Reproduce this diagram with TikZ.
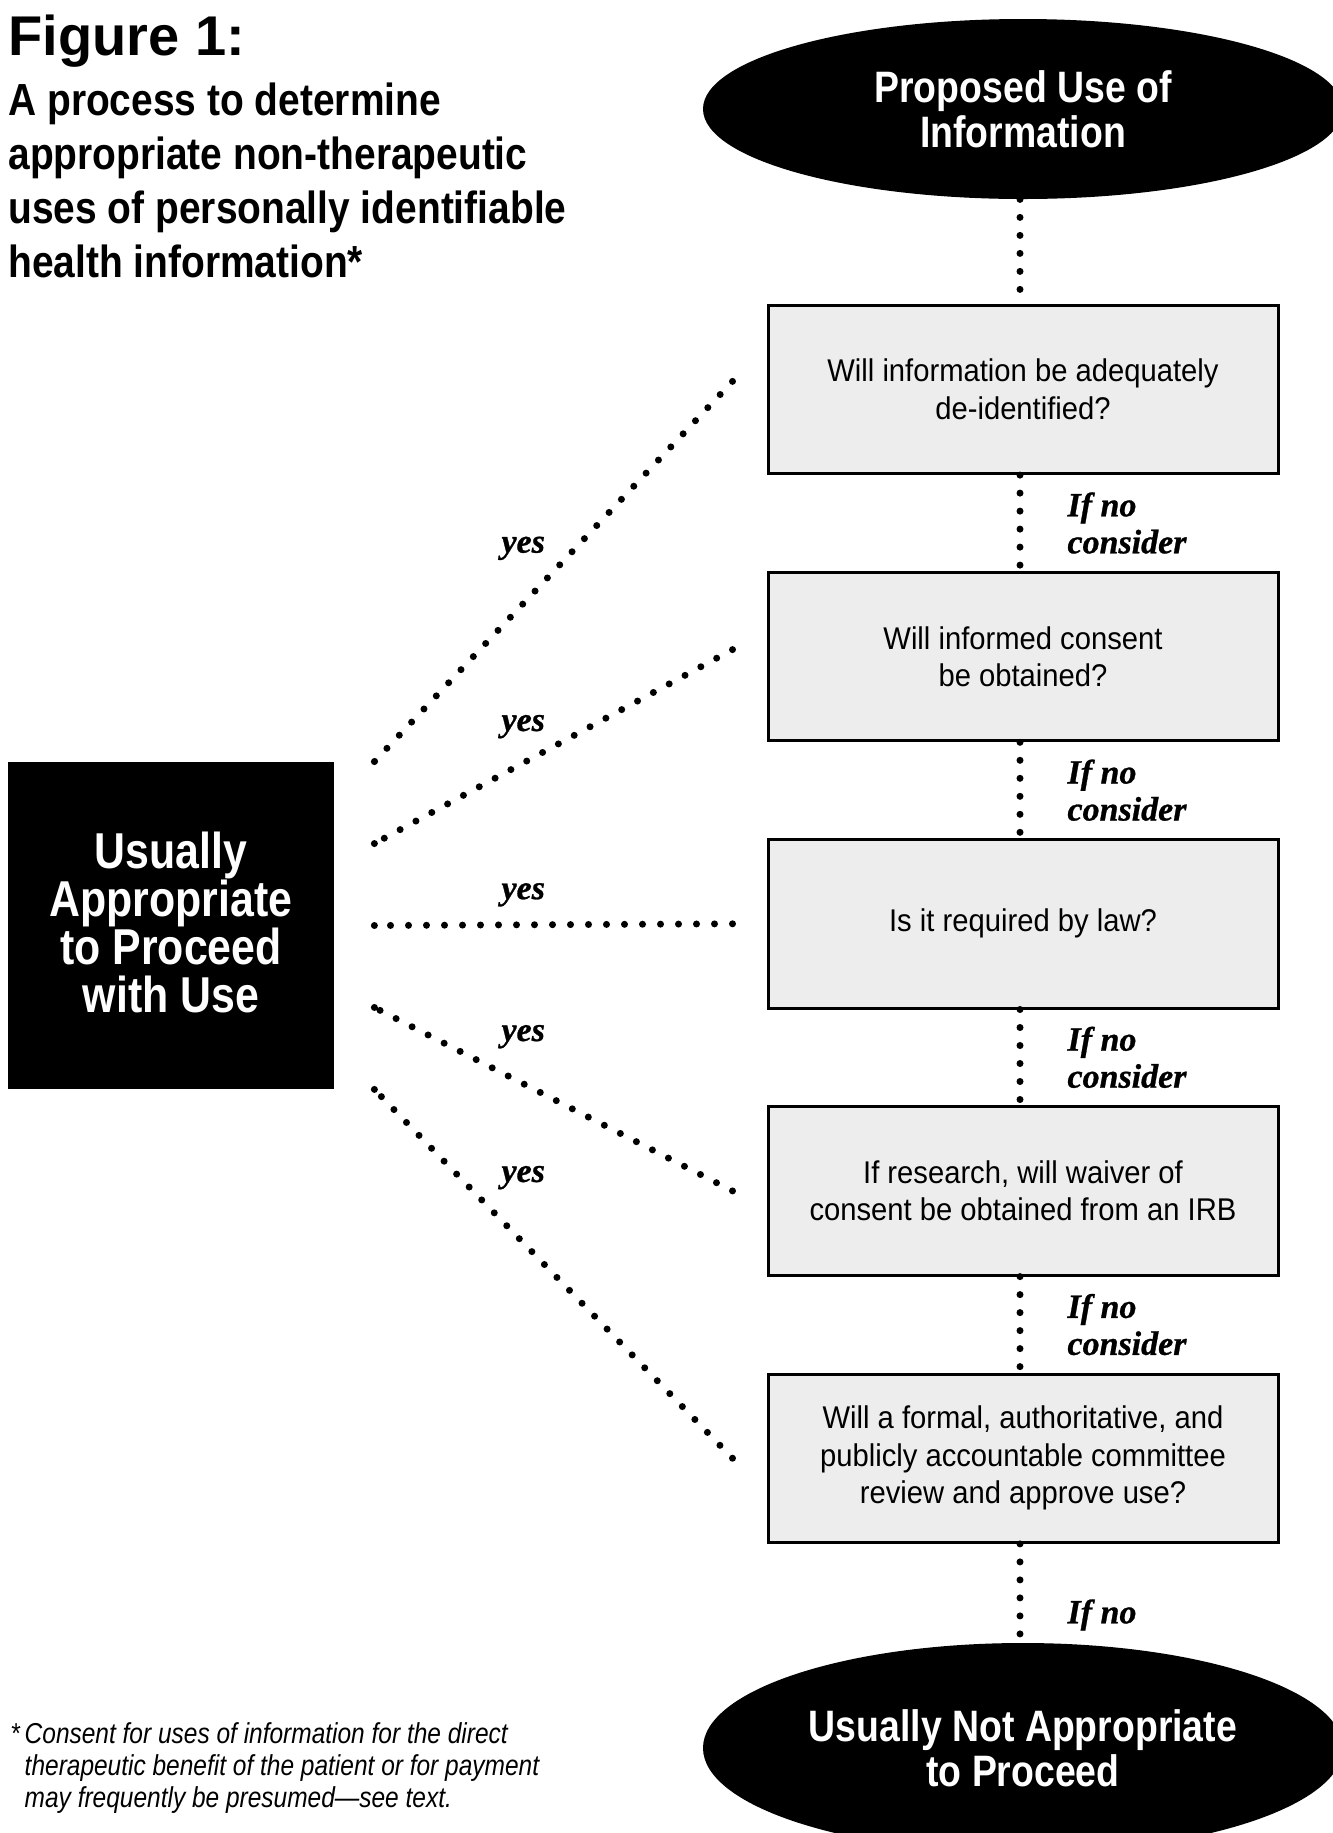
\documentclass[tikz,border=0pt]{standalone}
\usepackage{fontspec}
\setmainfont{Liberation Sans}
\newfontfamily\condf{Liberation Sans}[FakeStretch=0.85]
\newfontfamily\subf{Liberation Sans}[FakeStretch=0.865]
\newfontfamily\boxf{Liberation Sans}[FakeStretch=0.93]
\newfontfamily\serf{Liberation Serif Bold Italic}[FakeBold=0.8]
\usetikzlibrary{shapes.geometric,calc}
\definecolor{boxgray}{HTML}{EDEDED}
\begin{document}
\begin{tikzpicture}[x=0.5pt,y=-0.5pt,
  qbox/.style={draw=black, line width=1.5pt, fill=boxgray, minimum width=255pt, minimum height=84.2pt, align=center, inner sep=0pt, font=\boxf\fontsize{15.7}{18.7}\selectfont},
  oval/.style={ellipse, fill=black, text=white, minimum width=320pt, minimum height=90pt, align=center, inner sep=0pt, font=\condf\bfseries\fontsize{22}{22.5}\selectfont},
  dotline/.style={line width=3.5pt, line cap=round, dash pattern=on 0pt off 9pt},
  iflabel/.style={font=\serf\fontsize{17}{18.5}\selectfont, align=left, inner sep=0pt},
  yeslabel/.style={font=\serf\fontsize{17}{20}\selectfont, inner sep=0pt},
]
\useasboundingbox (0,0) rectangle (1333,1833);
\clip (0,0) rectangle (1333,1833);

% titles
\node[anchor=base west, inner sep=0pt, font=\bfseries\fontsize{28}{30}\selectfont] (fig) at (8,55) {Figure 1:};
\node[anchor=north west, inner sep=0pt, align=left, font=\subf\bfseries\fontsize{22.5}{27}\selectfont] (sub) at (8,82) {A process to determine\\appropriate non-therapeutic\\uses of personally identifiable\\health information*};

% main column
\node[oval] (top) at (1023,109) {Proposed Use of\\Information};
\node[qbox] (q1) at (1023,389.4) {Will information be adequately\\de-identified?};
\node[qbox] (q2) at (1023,656.6) {Will informed consent\\be obtained?};
\node[qbox] (q3) at (1023,923.8) {Is it required by law?};
\node[qbox] (q4) at (1023,1190.9) {If research, will waiver of\\consent be obtained from an IRB};
\node[qbox] (q5) at (1023,1458.2) {Will a formal, authoritative, and\\publicly accountable committee\\review and approve use?};
\node[oval, minimum height=105pt] (bot) at (1023,1748) {Usually Not Appropriate\\to Proceed};

% left box
\node[fill=black, minimum width=163pt, minimum height=163.5pt, inner sep=0pt] (ok) at (171,925.5) {};
\node[text=white, inner sep=0pt, align=center, font=\condf\bfseries\fontsize{25.2}{24}\selectfont] (oktext) at ([yshift=1.75pt]ok.center) {Usually\\Appropriate\\to Proceed\\with Use};

% vertical connectors
\draw[dotline] ([xshift=-1.5pt]top.south) -- ([xshift=-1.5pt]q1.north);
\draw[dotline] ([xshift=-1.5pt]q1.south) -- ([xshift=-1.5pt]q2.north) node[midway, right=22pt, iflabel] (n1) {If no\\consider};
\draw[dotline] ([xshift=-1.5pt]q2.south) -- ([xshift=-1.5pt]q3.north) node[midway, right=22pt, iflabel] (n2) {If no\\consider};
\draw[dotline] ([xshift=-1.5pt]q3.south) -- ([xshift=-1.5pt]q4.north) node[midway, right=22pt, iflabel] (n3) {If no\\consider};
\draw[dotline] ([xshift=-1.5pt]q4.south) -- ([xshift=-1.5pt]q5.north) node[midway, right=22pt, iflabel] (n4) {If no\\consider};
\draw[dotline] ([xshift=-1.5pt]q5.south) -- ([xshift=-1.5pt]bot.north) node[pos=0.72, right=22pt, iflabel] (n5) {If no};

% yes connectors (drawn from the question box towards the result box)
\coordinate (a1) at ($(ok.north east)+(40,0)$);
\coordinate (a2) at ($(ok.north east)!0.25!(ok.south east)+(40,0)$);
\coordinate (a3) at ($(ok.east)+(40,0)$);
\coordinate (a4) at ($(ok.north east)!0.75!(ok.south east)+(40,0)$);
\coordinate (a5) at ($(ok.south east)+(40,0)$);
\draw[dotline] ([xshift=-17pt,yshift=4pt]q1.west) -- (a1) node[pos=0.59, yshift=28.7pt, xshift=1pt, yeslabel] (y1) {yes} (a1) -- ++(0.02,0);
\draw[dotline] ([xshift=-17pt,yshift=3.5pt]q2.west) -- (a2) node[pos=0.59, yshift=18.7pt, xshift=1pt, yeslabel] (y2) {yes} (a2) -- ++(0.02,0);
\draw[dotline] ([xshift=-17pt]q3.west) -- (a3) node[pos=0.59, yshift=15pt, xshift=1pt, yeslabel] (y3) {yes} (a3) -- ++(0.02,0);
\draw[dotline] ([xshift=-17pt]q4.west) -- (a4) node[pos=0.59, yshift=23pt, xshift=1pt, yeslabel] (y4) {yes} (a4) -- ++(0.02,0);
\draw[dotline] ([xshift=-17pt]q5.west) -- (a5) node[pos=0.59, yshift=31.5pt, xshift=1pt, yeslabel] (y5) {yes} (a5) -- ++(0.02,0);

% footnote
\node[anchor=north west, inner sep=0pt, align=left, font=\condf\itshape\fontsize{14.4}{16}\selectfont] (fn) at (10,1722) {*\,Consent for uses of information for the direct\\\phantom{*\,}therapeutic benefit of the patient or for payment\\\phantom{*\,}may frequently be presumed—see text.};
\end{tikzpicture}
\end{document}
